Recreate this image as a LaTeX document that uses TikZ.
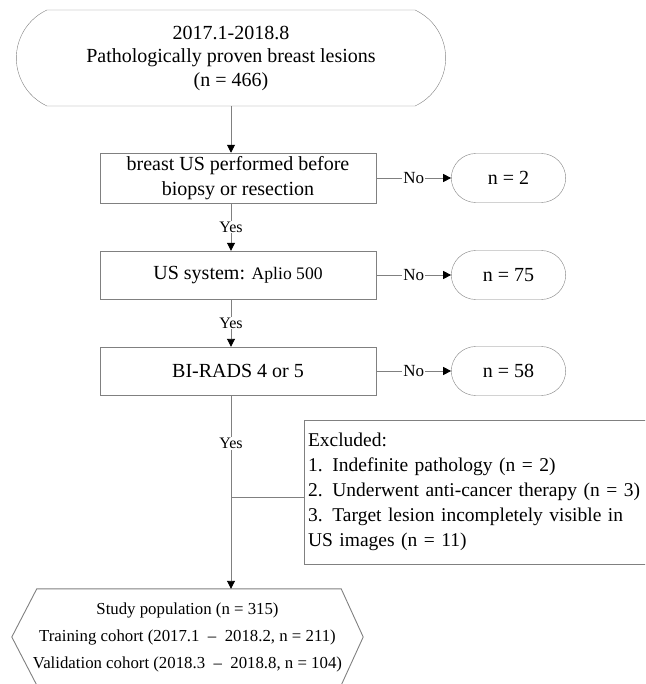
\documentclass[tikz,border=0pt]{standalone}
\usepackage{fontspec}
\setmainfont{Liberation Serif}
\usetikzlibrary{shapes, shapes.misc, arrows.meta, positioning}

\begin{document}
\begin{tikzpicture}
  [
    x=1pt, y=-1pt,
    Start/.style={rounded rectangle, rounded rectangle arc length=130, draw=black!50, minimum width=436pt, minimum height=96pt, align=center, font=\fontsize{20}{23.5}\selectfont},
    Box/.style={rectangle, draw=black!50, minimum width=276pt, minimum height=48pt, align=center, font=\fontsize{20}{25}\selectfont},
    Count/.style={rounded rectangle, draw=black!50, minimum width=121pt, minimum height=49pt, font=\fontsize{20}{25}\selectfont},
    Note/.style={rectangle, draw=black!50, text width=348pt, inner xsep=4pt, minimum height=144pt, align=left, font=\fontsize{19.5}{25}\selectfont},
    Hexa/.style={rectangle, minimum width=351pt, minimum height=96pt, align=center, font=\fontsize{16.8}{27}\selectfont},
    Tag/.style={fill=white, inner sep=1pt, font=\fontsize{16}{18}\selectfont},
    Line/.style={draw=black!50, line width=0.9pt},
    Arrow/.style={Line, -{Triangle[length=8pt, width=8pt, color=black]}}
  ]
  \useasboundingbox (0, 0) rectangle (645, 684);
  \clip (0, 0) rectangle (645, 684);

  % Nodes
  \node[Start] (start) at(231, 58) {2017.1-2018.8\\Pathologically proven breast lesions\\(n = 466)};
  \node[Box] (us) at(238, 178) {breast US performed before\\biopsy or resection};
  \node[Box] (system) at(238, 275) {US system: {\fontsize{17.6}{22}\selectfont Aplio 500}};
  \node[Box] (birads) at(238, 371) {BI-RADS 4 or 5};
  \node[Count] (out1) at(508.5, 178) {n = 2};
  \node[Count] (out2) at(508.5, 275) {n = 75};
  \node[Count] (out3) at(508.5, 371) {n = 58};
  \node[Note] (excluded) at(482, 492) {Excluded:\\1. Indefinite pathology (n = 2)\\2. Underwent anti-cancer therapy (n = 3)\\3. Target lesion incompletely visible in\\US images (n = 11)};
  \node[Hexa] (study) at(187.5, 637) {Study population (n = 315)\\Training cohort (2017.1 ~–~ 2018.2, n = 211)\\Validation cohort (2018.3 ~–~ 2018.8, n = 104)};
  \coordinate (split) at(231, 497);

  % Hexagon outline
  \path [Line] (study.west) -- ([xshift=25pt]study.north west) -- ([xshift=-22pt]study.north east) -- (study.east)
    -- ([xshift=-22pt]study.south east) -- ([xshift=25pt]study.south west) -- cycle;

  % Lines
  \path [Arrow] (start.south) -- (start.south |- us.north);
  \path [Arrow] (start.south |- us.south) -- node[Tag] {Yes} (start.south |- system.north);
  \path [Arrow] (start.south |- system.south) -- node[Tag] {Yes} (start.south |- birads.north);
  \path [Arrow] (start.south |- birads.south) -- node[Tag, pos=0.25] {Yes} (start.south |- study.north);
  \path [Line] (split) -- (split -| excluded.west);
  \path [Arrow] (us.east) -- node[Tag, font=\fontsize{17}{18}\selectfont] {No} (out1.west);
  \path [Arrow] (system.east) -- node[Tag, font=\fontsize{17}{18}\selectfont] {No} (out2.west);
  \path [Arrow] (birads.east) -- node[Tag, font=\fontsize{17}{18}\selectfont] {No} (out3.west);

\end{tikzpicture}
\end{document}
